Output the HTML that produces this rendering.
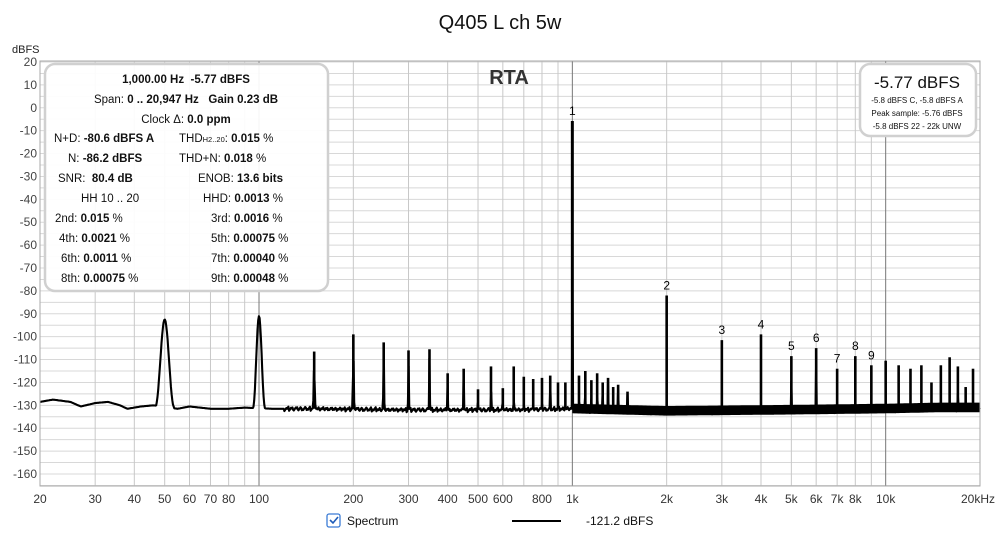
<!DOCTYPE html>
<html><head><meta charset="utf-8"><style>
html,body{margin:0;padding:0;background:#fff;width:1000px;height:533px;overflow:hidden;font-family:"Liberation Sans",sans-serif}
svg text{font-family:"Liberation Sans",sans-serif;white-space:pre}
</style></head><body>
<svg id="chart" width="1000" height="533" viewBox="0 0 1000 533">
<text x="500" y="29" text-anchor="middle" font-size="20" fill="#111">Q405 L ch 5w</text>
<text x="12" y="53" font-size="11" fill="#222">dBFS</text>
<g id="grid"></g>
<g id="ticks"></g>
<g id="series"></g>
<rect x="40" y="61" width="940" height="425" fill="none" stroke="#aaa" stroke-width="1"/>
<text x="509" y="84" text-anchor="middle" font-size="20" font-weight="bold" fill="#333">RTA</text>
<g>
<rect x="45" y="64" width="283" height="227" rx="10" fill="#fff" fill-opacity="0.93" stroke="#d0d0d0" stroke-width="2.5"/>
<g font-size="11.5" fill="#111">
<text x="186" y="83" text-anchor="middle"><tspan font-weight="bold">1,000.00 Hz  -5.77 dBFS</tspan></text>
<text x="186" y="103" text-anchor="middle">Span: <tspan font-weight="bold">0 .. 20,947 Hz   Gain 0.23 dB</tspan></text>
<text x="186" y="123" text-anchor="middle">Clock Δ: <tspan font-weight="bold">0.0 ppm</tspan></text>
<text x="54" y="142">N+D: <tspan font-weight="bold">-80.6 dBFS A</tspan></text>
<text x="179" y="142">THD<tspan font-size="7.5">H2..20</tspan>: <tspan font-weight="bold">0.015</tspan> %</text>
<text x="68" y="162">N: <tspan font-weight="bold">-86.2 dBFS</tspan></text>
<text x="179" y="162">THD+N: <tspan font-weight="bold">0.018</tspan> %</text>
<text x="58" y="182">SNR:  <tspan font-weight="bold">80.4 dB</tspan></text>
<text x="198" y="182">ENOB: <tspan font-weight="bold">13.6 bits</tspan></text>
<text x="81" y="202">HH 10 .. 20</text>
<text x="203" y="202">HHD: <tspan font-weight="bold">0.0013</tspan> %</text>
<text x="55" y="222">2nd: <tspan font-weight="bold">0.015</tspan> %</text>
<text x="211" y="222">3rd: <tspan font-weight="bold">0.0016</tspan> %</text>
<text x="59" y="242">4th: <tspan font-weight="bold">0.0021</tspan> %</text>
<text x="211" y="242">5th: <tspan font-weight="bold">0.00075</tspan> %</text>
<text x="61" y="262">6th: <tspan font-weight="bold">0.0011</tspan> %</text>
<text x="211" y="262">7th: <tspan font-weight="bold">0.00040</tspan> %</text>
<text x="61" y="282">8th: <tspan font-weight="bold">0.00075</tspan> %</text>
<text x="211" y="282">9th: <tspan font-weight="bold">0.00048</tspan> %</text>
</g></g>
<g>
<rect x="860" y="64" width="116" height="72" rx="10" fill="#fff" stroke="#d0d0d0" stroke-width="2.5"/>
<text x="917" y="88" text-anchor="middle" font-size="17" fill="#111">-5.77 dBFS</text>
<text x="917" y="103" text-anchor="middle" font-size="8" fill="#111">-5.8 dBFS C, -5.8 dBFS A</text>
<text x="917" y="116" text-anchor="middle" font-size="8" fill="#111">Peak sample: -5.76 dBFS</text>
<text x="917" y="129" text-anchor="middle" font-size="8" fill="#111">-5.8 dBFS 22 - 22k UNW</text>
</g>
<g>
<rect x="327" y="514" width="13" height="13" rx="2" fill="#fff" stroke="#3a7bd5" stroke-width="1.3"/>
<path d="M330 520 l3 3 l5 -6" fill="none" stroke="#1e5bb8" stroke-width="1.6"/>
<text x="347" y="525" font-size="12" fill="#111">Spectrum</text>
<line x1="512" y1="521" x2="561" y2="521" stroke="#000" stroke-width="2"/>
<text x="586" y="525" font-size="12" fill="#111">-121.2 dBFS</text>
</g>
</svg>
<script>
const xTicks=[20,30,40,50,60,70,80,100,200,300,400,500,600,800,1000,2000,3000,4000,5000,6000,7000,8000,10000,20000];
const xTickLabels=["20","30","40","50","60","70","80","100","200","300","400","500","600","800","1k","2k","3k","4k","5k","6k","7k","8k","10k","20kHz"];
const gridFreqs=[20,30,40,50,60,70,80,90,100,200,300,400,500,600,700,800,900,1000,2000,3000,4000,5000,6000,7000,8000,9000,10000,20000];
const yTicks=[20,10,0,-10,-20,-30,-40,-50,-60,-70,-80,-90,-100,-110,-120,-130,-140,-150,-160];
const floorFreqs=[20,22,25,27,30,33,36,38,42,46,55,60,70,80,90,110,150,300,600,1000,2000,5000,10000,15000,20000];
const floorDb=[-128.5,-127.5,-128.5,-130.5,-129,-128.5,-130,-131.5,-130.5,-130,-131.5,-130.5,-131.5,-131.5,-131,-131.5,-131.5,-132,-132,-131.5,-132.5,-132,-131.5,-131,-131];
const peakFreqs=[50,100,150,200,250,300,350,400,450,500,550,600,650,700,750,800,850,900,950,1000,1050,1100,1150,1200,1250,1300,1350,1400,1500,2000,3000,4000,5000,6000,7000,8000,9000,10000,11000,12000,13000,14000,15000,16000,17000,18000,19000];
const peakDb=[-92.5,-91,-106.5,-99,-102.5,-106,-105.5,-116,-114,-123,-113,-122.5,-113,-117.5,-118.5,-118,-117,-120,-120,-5.77,-117,-115,-119,-116,-120,-118,-122,-121,-124,-82,-101.5,-99,-108.5,-105,-114,-108.5,-112.5,-110.5,-112.5,-114,-112.5,-120,-112.5,-109,-113,-122,-114];
const peakWidth=[0.07,0.045,0.014,0.012,0.01,0.008,0.008,0.006,0.006,0.006,0.006,0.005,0.005,0.004,0.004,0.004,0.004,0.004,0.004,0.003,0.003,0.003,0.003,0.003,0.003,0.003,0.003,0.003,0.003,0.002,0.0015,0.0012,0.001,0.001,0.001,0.001,0.001,0.001,0.001,0.001,0.001,0.001,0.001,0.001,0.001,0.001,0.001];
const harmLabels=["1","2","3","4","5","6","7","8","9"];
const harmFreqs=[1000,2000,3000,4000,5000,6000,7000,8000,9000];
const harmDb=[-5.77,-82,-101.5,-99,-108.5,-105,-114,-108.5,-112.5];

(function(){
const NS="http://www.w3.org/2000/svg";
const X0=40,X1=980,Y20=62,PXDB=412/180;
function xs(f){return X0+(X1-X0)*Math.log10(f/20)/3;}
function ys(v){return Y20+(20-v)*PXDB;}
function mk(tag,attrs,parent){const e=document.createElementNS(NS,tag);for(const k in attrs)e.setAttribute(k,attrs[k]);parent.appendChild(e);return e;}
const grid=document.getElementById('grid'),ticks=document.getElementById('ticks'),series=document.getElementById('series');
for(let v=20;v>=-165;v-=5){const l=mk('line',{x1:X0,x2:X1,y1:ys(v),y2:ys(v),stroke:'#d8d8d8','stroke-width':1},grid);

}
gridFreqs.forEach(f=>{const dark=(f===100||f===1000||f===10000);const l=mk('line',{x1:xs(f),x2:xs(f),y1:61,y2:486,stroke:dark?'#777':'#c8c8c8','stroke-width':1},grid);

});
yTicks.forEach(v=>{const t=mk('text',{x:37,y:ys(v)+4,'text-anchor':'end','font-size':12,fill:'#444'},ticks);t.textContent=v;

});
xTicks.forEach((f,i)=>{const t=mk('text',{x:xs(f)+(i===xTicks.length-1?-2:0),y:503,'text-anchor':'middle','font-size':12,fill:'#333'},ticks);t.textContent=xTickLabels[i];

});
function floorAt(f){const lf=Math.log10(f);for(let i=0;i<floorFreqs.length-1;i++){const a=Math.log10(floorFreqs[i]),b=Math.log10(floorFreqs[i+1]);if(lf>=a&&lf<=b){const t=(lf-a)/(b-a);return floorDb[i]+t*(floorDb[i+1]-floorDb[i]);}}return floorDb[floorDb.length-1];}
let pts=[];
const N=1400;
for(let i=0;i<=N;i++){const f=20*Math.pow(1000,i/N);let v=floorAt(f);
 if(f>120){v+=(((i*7919)%13)+((i*104729)%7)-9)/9*(f>1000?1.6:1.0);}
 peakFreqs.forEach((pf,j)=>{const d=Math.abs(Math.log(f/pf))/peakWidth[j];if(d<1){const sh=pf<=100?Math.pow(Math.cos(d*Math.PI/2),2.2):Math.pow(1-d,3);const pv=floorAt(pf)+(peakDb[j]-floorAt(pf))*sh;if(pv>v)v=pv;}});
 pts.push(xs(f).toFixed(1)+','+ys(v).toFixed(1));}
const trace=mk('polyline',{points:pts.join(' '),fill:'none',stroke:'#000','stroke-width':2.1,'stroke-linejoin':'round'},series);


peakFreqs.forEach((pf,j)=>{if(pf<=100)return;const l=mk('line',{x1:xs(pf),x2:xs(pf),y1:ys(floorAt(pf)),y2:ys(peakDb[j]),stroke:'#000','stroke-width':pf===1000?3:2.6},series);

});
const band=mk('path',{d:'',fill:'#000'},series);
let upper=[],lower=[];for(let i=0;i<=200;i++){const f=1000*Math.pow(20,i/200);upper.push(xs(f).toFixed(1)+','+ys(floorAt(f)+2.2).toFixed(1));lower.unshift(xs(f).toFixed(1)+','+ys(floorAt(f)-2).toFixed(1));}
band.setAttribute('d','M'+upper.join(' L')+' L'+lower.join(' L')+'Z');


harmFreqs.forEach((f,i)=>{const t=mk('text',{x:xs(f),y:ys(harmDb[i])-6,'text-anchor':'middle','font-size':12,fill:'#000'},series);t.textContent=harmLabels[i];

});
})();
</script>
</body></html>
